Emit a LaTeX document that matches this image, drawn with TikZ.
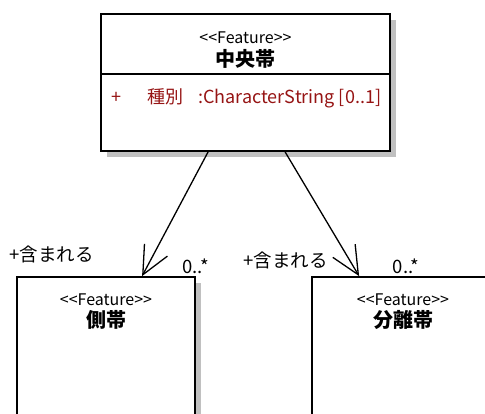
\documentclass[tikz,border=0pt]{standalone}
\usepackage{fontspec}
\setmainfont{Noto Sans CJK JP}
\usetikzlibrary{arrows.meta,calc,shadows}
\definecolor{attrred}{RGB}{150,20,20}
\definecolor{shadowgray}{RGB}{192,192,192}
\newcommand{\stereotxt}{<{}<Feature>{}>}
\tikzset{
  classbox/.style={draw=black, line width=1.8pt, fill=white, rectangle, inner sep=0pt,
    drop shadow={shadow xshift=6pt, shadow yshift=-6pt, fill=shadowgray, opacity=1}},
  stereo/.style={font=\fontsize{16}{18}\selectfont, inner sep=0pt},
  cname/.style={font=\bfseries\fontsize{20}{22}\selectfont, inner sep=0pt},
  attr/.style={font=\fontsize{18}{19}\selectfont, text=attrred, inner sep=0pt, anchor=base west},
  lbl/.style={font=\fontsize{18.5}{20}\selectfont, inner sep=0pt},
  assoc/.style={line width=1.3pt, -{Straight Barb[length=28pt, width=26pt, line width=1.3pt]}}
}
\begin{document}
\begin{tikzpicture}[x=1pt,y=-1pt]
\useasboundingbox (0,0) rectangle (485,414);
% classes
\node[classbox, minimum width=289pt, minimum height=137pt] (top) at (245.5,82.5) {};
\node[classbox, minimum width=178pt, minimum height=150pt] (left) at (106,352) {};
\node[draw=black, line width=1.8pt, fill=white, minimum width=200pt, minimum height=150pt, inner sep=0pt] (right) at (412,352) {};
\draw[line width=1.3pt] ($(top.north west)+(0,61)$) coordinate (divl) -- (divl -| top.east);
% texts
\node[stereo] (t1) at (245.5,38) {\stereotxt};
\node[cname] (t2) at (245.5,59) {中央帯};
\node[attr, text=attrred] (a1) at (111,104) {+};
\node[attr] (a2) at (147,104) {種別};
\node[attr] (a3) at (198,104) {:CharacterString [0..1]};
\node[stereo] (l1) at (106,300) {\stereotxt};
\node[cname] (l2) at (106,320) {側帯};
\node[stereo] (r1) at (403,300) {\stereotxt};
\node[cname] (r2) at (403,320) {分離帯};
% associations
\coordinate (s1) at ($(top.south west)+(108,0)$);
\coordinate (e1) at ($(left.north west)+(126,0)$);
\coordinate (s2) at ($(top.south west)+(185,0)$);
\coordinate (e2) at ($(right.north west)+(48,0)$);
\draw[assoc] (s1) -- (e1);
\draw[assoc] (s2) -- (e2);
\node[lbl] (m1) at (51.5,254) {+含まれる};
\node[lbl] (n1) at (195.5,266) {0..*};
\node[lbl] (m2) at (285.5,260) {+含まれる};
\node[lbl] (n2) at (406,266) {0..*};
\end{tikzpicture}
\end{document}
